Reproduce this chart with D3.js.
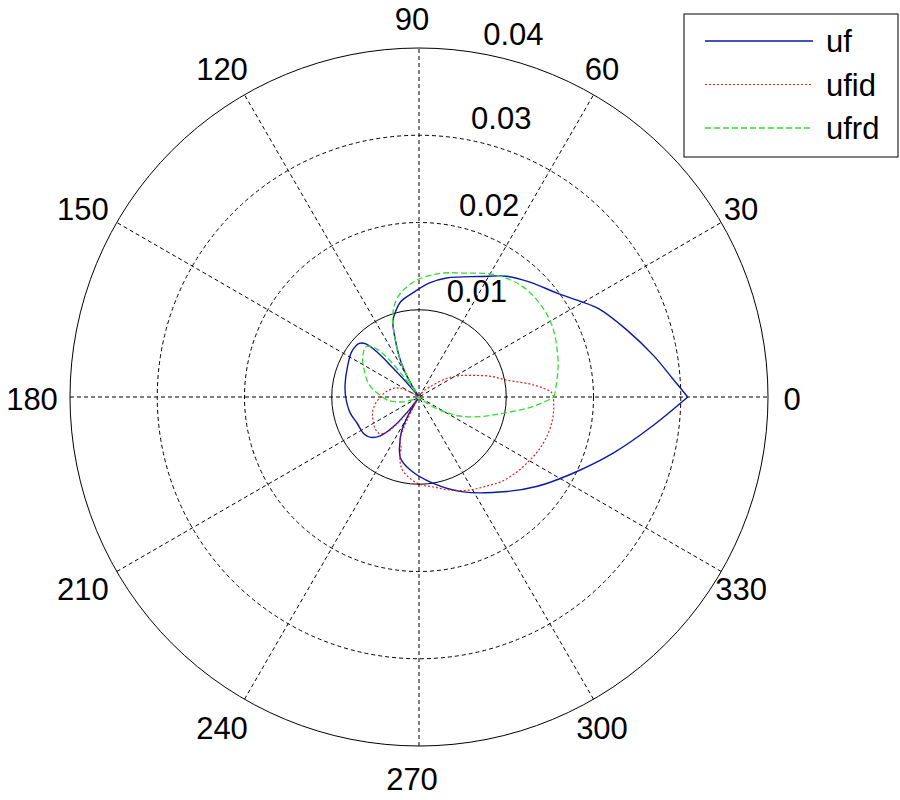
<!DOCTYPE html>
<html>
<head>
<meta charset="utf-8">
<script src="https://cdn.jsdelivr.net/npm/d3@7/dist/d3.min.js"></script>
<style>
body { margin: 0; background: #fff; }
text { font-family: "Liberation Sans", Arial, Helvetica, sans-serif; font-size: 31px; fill: #000; }
</style>
</head>
<body>
<svg id="chart" width="900" height="800"></svg>
<script>
// rings and spokes
const ringTicks = [0.01, 0.02, 0.03, 0.04]
const angleTicks = [0, 30, 60, 90, 120, 150, 180, 210, 240, 270, 300, 330]
const seriesNames = ['uf', 'ufid', 'ufrd']

// uf (degrees, magnitude)
const ufTheta = [0, 4, 10, 18, 26, 31, 37, 46, 54, 63, 77, 85, 93, 101, 106, 109, 112, 116, 119, 122, 126, 130, 132, 133, 135, 138, 146, 157, 170, 180, 193, 203, 214, 220, 225, 229, 233, 236, 239, 243, 247, 253, 263, 279, 295, 313, 323, 333, 344, 353, 360]
const ufR = [0.0308, 0.0292, 0.0273, 0.0250, 0.0230, 0.0214, 0.0198, 0.0183, 0.0171, 0.0155, 0.0140, 0.0131, 0.0120, 0.0111, 0.0100, 0.0092, 0.0074, 0.0052, 0.0035, 0.0015, 0.0002, 0.0015, 0.0045, 0.0070, 0.0086, 0.0092, 0.0093, 0.0089, 0.0086, 0.0084, 0.0081, 0.0077, 0.0076, 0.0072, 0.0063, 0.0046, 0.0017, 0.0003, 0.0023, 0.0044, 0.0056, 0.0073, 0.0084, 0.0100, 0.0120, 0.0148, 0.0170, 0.0195, 0.0232, 0.0270, 0.0308]

// ufid
const ufidTheta = [0, 2, 6, 11, 16, 21, 28, 34, 43, 55, 80, 130, 150, 156, 160, 172, 180, 188, 198, 207, 216, 222, 227, 230, 233, 236, 240, 243, 246, 250, 253, 258, 269, 280, 288, 298, 307, 314, 322, 330, 336, 342, 349, 355, 360]
const ufidR = [0.0154, 0.0152, 0.0132, 0.0102, 0.0086, 0.0069, 0.0052, 0.0038, 0.0017, 0.0006, 0.0001, 0.0001, 0.0011, 0.0025, 0.0030, 0.0039, 0.0044, 0.0050, 0.0056, 0.0059, 0.0062, 0.0062, 0.0056, 0.0044, 0.0023, 0.0006, 0.0010, 0.0031, 0.0054, 0.0060, 0.0075, 0.0087, 0.0099, 0.0105, 0.0112, 0.0121, 0.0128, 0.0135, 0.0141, 0.0146, 0.0150, 0.0153, 0.0155, 0.0155, 0.0154]

// ufrd
const ufrdTheta = [0, 8, 15, 28, 38, 48, 59, 70, 80, 91, 100, 105, 109, 112, 116, 120, 124, 127, 129, 131, 134, 137, 142, 147, 156, 164, 171, 178, 185, 191, 197, 205, 215, 260, 300, 318, 322, 326, 330, 334, 342, 346, 349, 354, 357, 360]
const ufrdR = [0.0155, 0.0160, 0.0165, 0.0173, 0.0175, 0.0173, 0.0164, 0.0151, 0.0144, 0.0134, 0.0121, 0.0109, 0.0093, 0.0074, 0.0052, 0.0025, 0.0006, 0.0029, 0.0058, 0.0072, 0.0081, 0.0084, 0.0081, 0.0077, 0.0068, 0.0061, 0.0053, 0.0044, 0.0037, 0.0028, 0.0019, 0.0006, 0.0001, 0.0000, 0.0001, 0.0006, 0.0011, 0.0023, 0.0034, 0.0049, 0.0073, 0.0086, 0.0098, 0.0124, 0.0140, 0.0155]

const cx = 419, cy = 397, R = 349

const svg = d3.select('#chart')
const g = svg.append('g').attr('transform', `translate(${cx},${cy})`)

const r = d3.scaleLinear().domain([0, 0.04]).range([0, R])
const rad = deg => deg * Math.PI / 180

// white disc behind the grid
g.append('circle').attr('r', R).attr('fill', '#fff')

// spokes, drawn through the centre like matlab does
g.selectAll('line.spoke')
	.data(angleTicks.filter(a => a < 180))
	.enter().append('line')
	.attr('class', 'spoke')
	.attr('x1', a => -R * Math.cos(rad(a)))
	.attr('y1', a => R * Math.sin(rad(a)))
	.attr('x2', a => R * Math.cos(rad(a)))
	.attr('y2', a => -R * Math.sin(rad(a)))
	.attr('stroke', '#000')
	.attr('stroke-width', 1)
	.attr('stroke-dasharray', '4,3')

// rings: inner and outer solid, the middle ones dashed
g.selectAll('circle.ring')
	.data(ringTicks)
	.enter().append('circle')
	.attr('class', 'ring')
	.attr('r', d => r(d))
	.attr('fill', 'none')
	.attr('stroke', '#000')
	.attr('stroke-width', 1)
	.attr('stroke-dasharray', (d, i) => (i === 0 || i === ringTicks.length - 1) ? null : '4,3')

// ring labels at 82 degrees
const labAng = rad(82)
g.selectAll('text.rlab')
	.data(ringTicks)
	.enter().append('text')
	.attr('class', 'rlab')
	.attr('x', d => r(d + 0.0005) * Math.cos(labAng) + 15)
	.attr('y', d => Math.max(-r(d + 0.0005) * Math.sin(labAng) - 4, 45 - cy))
	.text(d => String(d))

// angle labels
const labR = 380
g.selectAll('text.alab')
	.data(angleTicks)
	.enter().append('text')
	.attr('class', 'alab')
	.attr('x', a => labR * Math.cos(rad(a)) - 7)
	.attr('y', a => -labR * Math.sin(rad(a)) + 2)
	.attr('text-anchor', 'middle')
	.attr('dominant-baseline', 'central')
	.text(a => a)

// data lines
const styles = {
	uf: {color: '#0a18a8', dash: null, width: 1.4},
	ufid: {color: '#e02020', dash: '2,2', width: 1.2},
	ufrd: {color: '#2ee02e', dash: '6,3', width: 1.3},
}
const dataSets = {
	uf: d3.zip(ufTheta, ufR),
	ufid: d3.zip(ufidTheta, ufidR),
	ufrd: d3.zip(ufrdTheta, ufrdR),
}

const line = d3.lineRadial()
	.angle(d => rad(90 - d[0]))
	.radius(d => r(d[1]))
	.curve(d3.curveCatmullRom.alpha(0.5))

seriesNames.forEach(name => {
	const s = styles[name]
	g.append('path')
		.datum(dataSets[name])
		.attr('d', line)
		.attr('fill', 'none')
		.attr('stroke', s.color)
		.attr('stroke-width', s.width)
		.attr('stroke-dasharray', s.dash)
})

// legend
const lg = svg.append('g').attr('transform', 'translate(684,14)')
lg.append('rect')
	.attr('width', 214)
	.attr('height', 143)
	.attr('fill', '#fff')
	.attr('stroke', '#000')
	.attr('stroke-width', 1)

const rows = lg.selectAll('g.row')
	.data(seriesNames)
	.enter().append('g')
	.attr('class', 'row')
	.attr('transform', (d, i) => `translate(0,${27 + i * 43.5})`)
rows.append('line')
	.attr('x1', 21).attr('x2', 129)
	.attr('stroke', d => styles[d].color)
	.attr('stroke-width', d => styles[d].width)
	.attr('stroke-dasharray', d => styles[d].dash)
rows.append('text')
	.attr('x', 142)
	.attr('y', 11)
	.text(d => d)
</script>
</body>
</html>
